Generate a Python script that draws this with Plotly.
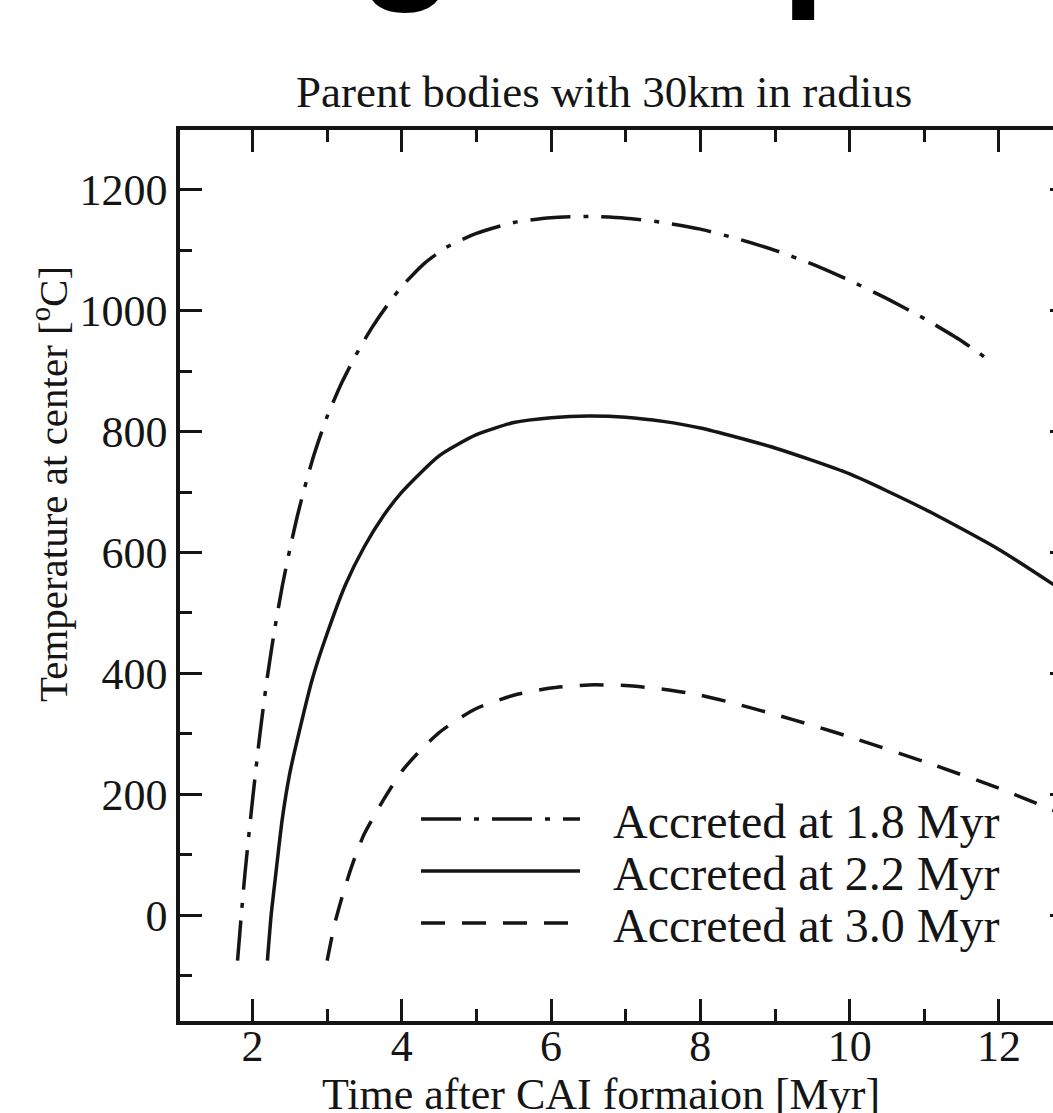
import plotly.graph_objects as go

# ---------------- data ----------------
x_18 = [1.8, 1.85, 1.9, 2.0, 2.1, 2.2, 2.3, 2.4, 2.5, 2.6, 2.7, 2.8, 2.9, 3.0,
        3.2, 3.4, 3.6, 3.8, 4.0, 4.3, 4.6, 5.0, 5.5, 6.0, 6.5, 7.0, 7.5, 8.0,
        8.5, 9.0, 9.5, 10.0, 10.5, 11.0, 11.5, 11.8]
y_18 = [-75, 0, 70, 190, 300, 395, 475, 545, 605, 660, 708, 752, 790, 825,
        882, 930, 972, 1008, 1040, 1078, 1105, 1128, 1146, 1154, 1156, 1153, 1146, 1135,
        1119, 1100, 1077, 1050, 1020, 987, 950, 924]

x_22 = [2.2, 2.25, 2.3, 2.4, 2.5, 2.6, 2.8, 3.0, 3.25, 3.5, 3.75, 4.0, 4.5,
        5.0, 5.5, 6.0, 6.5, 7.0, 7.5, 8.0, 9.0, 10.0, 11.0, 12.0, 13.0]
y_22 = [-75, 0, 55, 160, 235, 290, 390, 466, 548, 610, 660, 700, 760,
        795, 815, 823, 826, 824, 817, 806, 773, 730, 672, 605, 525]

x_30 = [3.0, 3.1, 3.2, 3.3, 3.4, 3.5, 3.75, 4.0, 4.25, 4.5, 4.75, 5.0, 5.5,
        6.0, 6.5, 7.0, 7.5, 8.0, 8.5, 9.0, 9.5, 10.0, 11.0, 12.0, 13.0]
y_30 = [-75, -15, 30, 70, 105, 135, 190, 238, 273, 302, 324, 342, 364,
        376, 381, 380, 374, 364, 349, 332, 314, 295, 254, 210, 160]

series_names = ["Accreted at 1.8 Myr", "Accreted at 2.2 Myr", "Accreted at 3.0 Myr"]
x_tick_vals = [2, 4, 6, 8, 10, 12]
y_tick_vals = [0, 200, 400, 600, 800, 1000, 1200]

title_text = "Parent bodies with 30km in radius"
x_title = "Time after CAI formaion [Myr]"
y_title = "Temperature at center [<sup>o</sup>C]"

# ---------------- layout geometry ----------------
W, H = 1053, 1113
L, R, T, B = 180, 0, 130, 92
PW, PH = W - L - R, H - T - B


def px(x):
    return (x - L) / PW


def py(y):
    return (H - B - y) / PH


SERIF = "Liberation Serif, Times New Roman, serif"
INK = "#151515"
DASHDOT = "40px,13px,5px,13px"
DASH = "24px,17px"
styles = [dict(dash=DASHDOT), dict(dash="solid"), dict(dash=DASH)]

fig = go.Figure()
for xs, ys, name, st in zip([x_18, x_22, x_30], [y_18, y_22, y_30], series_names, styles):
    fig.add_trace(go.Scatter(x=xs, y=ys, mode="lines", name=name, showlegend=False,
                             line=dict(color=INK, width=3.5, dash=st["dash"], shape="spline",
                                       smoothing=0.6)))

# invisible trace to activate right-hand tick axis
fig.add_trace(go.Scatter(x=[None], y=[None], yaxis="y2", showlegend=False, hoverinfo="skip"))

axis_common = dict(showline=True, linewidth=3.5, linecolor=INK, ticks="inside",
                   ticklen=22, tickwidth=3, tickcolor=INK, showgrid=False, zeroline=False,
                   tickfont=dict(family=SERIF, size=44, color=INK))

fig.update_layout(
    width=W, height=H,
    margin=dict(l=L, r=R, t=T, b=B, pad=0),
    paper_bgcolor="white", plot_bgcolor="white",
    xaxis=dict(range=[1.029, 12.724], tickvals=x_tick_vals, mirror="ticks",
               ticklabelstandoff=-17,
               minor=dict(dtick=1, tick0=0, ticks="inside", ticklen=12, tickwidth=3, tickcolor=INK),
               **axis_common),
    yaxis=dict(range=[-175, 1299], tickvals=y_tick_vals, mirror=False,
               minor=dict(dtick=100, tick0=0, ticks="inside", ticklen=12, tickwidth=3, tickcolor=INK),
               **axis_common),
    yaxis2=dict(overlaying="y", side="right", range=[-175, 1299], tickvals=y_tick_vals,
                ticks="inside", ticklen=3, tickwidth=3, tickcolor=INK, showticklabels=False,
                showline=False, showgrid=False, zeroline=False),
)

annotations = [
    dict(text=title_text, x=px(604), y=py(92), xref="paper", yref="paper",
         xanchor="center", yanchor="middle", showarrow=False,
         font=dict(family=SERIF, size=45, color=INK)),
    dict(text=x_title, x=px(601), y=py(1094), xref="paper", yref="paper",
         xanchor="center", yanchor="middle", showarrow=False,
         font=dict(family=SERIF, size=44, color=INK)),
    dict(text=y_title, x=px(50), y=py(484), xref="paper", yref="paper",
         xanchor="center", yanchor="middle", showarrow=False, textangle=-90,
         font=dict(family=SERIF, size=41, color=INK)),
    # cropped giant heading fragments at the very top
    dict(text="g", x=px(407), y=py(-76), xref="paper", yref="paper",
         xanchor="center", yanchor="middle", showarrow=False,
         font=dict(family="Liberation Sans, Arial, sans-serif", size=160, color="black", weight="bold")),
    dict(text="p", x=px(830), y=py(-69), xref="paper", yref="paper",
         xanchor="center", yanchor="middle", showarrow=False,
         font=dict(family="Liberation Sans, Arial, sans-serif", size=160, color="black", weight="bold")),
]

# manual legend (long sample lines)
row_y = [819, 871, 923]
shapes = []
for name, st, ry in zip(series_names, styles, row_y):
    shapes.append(dict(type="line", xref="paper", yref="paper", x0=px(421), x1=px(580),
                       y0=py(ry), y1=py(ry), line=dict(color=INK, width=3.5, dash=st["dash"])))
    annotations.append(dict(text=name, x=px(611), y=py(ry + 2), xref="paper", yref="paper",
                            xanchor="left", yanchor="middle", showarrow=False,
                            font=dict(family=SERIF, size=48, color=INK)))

fig.update_layout(annotations=annotations, shapes=shapes)
fig.write_html("out.html")
